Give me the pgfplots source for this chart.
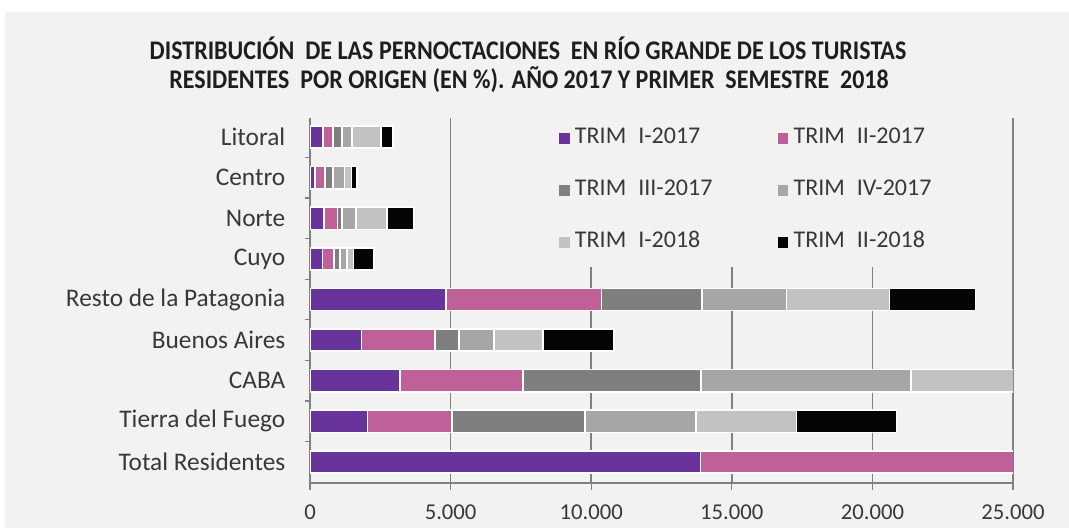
\documentclass[border=0pt]{standalone}
\usepackage{fontspec}
\setmainfont{Carlito}
\usepackage{pgfplots}
\pgfplotsset{compat=1.18}
\usepackage{pgfplotstable}
\definecolor{bg}{HTML}{F2F2F2}
\definecolor{c1}{HTML}{68339A}
\definecolor{c2}{HTML}{BF6198}
\definecolor{c3}{HTML}{7F7F7F}
\definecolor{c4}{HTML}{A6A6A6}
\definecolor{c5}{HTML}{C2C2C2}
\definecolor{c6}{HTML}{050505}
\definecolor{gridc}{HTML}{808080}
\definecolor{txt}{HTML}{383838}
\definecolor{ttl}{HTML}{1E1E1E}

\pgfplotstableread{
y T1 T2 T3 T4 T5 T6
0 13880 17120 16465 17170 15600 13490
1 2050 2990 4730 3950 3580 3560
2 3200 4380 6330 7470 4000 3000
3 1830 2620 850 1250 1730 2540
4 4840 5520 3590 2990 3670 3060
5 445 410 215 240 240 730
6 500 480 160 500 1100 960
7 180 360 270 410 250 210
8 460 360 320 360 1030 430
}\data

\begin{document}
\begin{tikzpicture}
\fill[white] (0,0) rectangle (801.75pt,396pt);
\fill[bg] (3.75pt,0) rectangle (801.75pt,387pt);
\node[font=\bfseries\fontsize{18}{20}\selectfont, text=ttl] at (396pt,360pt)
  {\scalebox{1}[1.12]{DISTRIBUCIÓN\ \ DE LAS PERNOCTACIONES\ \ EN RÍO GRANDE\ DE LOS TURISTAS}};
\node[font=\bfseries\fontsize{18}{20}\selectfont, text=ttl] at (396.75pt,336pt)
  {\scalebox{1}[1.12]{RESIDENTES\ \ POR ORIGEN (EN \%). AÑO 2017 Y PRIMER\ \ SEMESTRE\ \ 2018}};
\begin{axis}[
  at={(232.5pt,33.75pt)}, anchor=south west,
  scale only axis, width=527.25pt, height=273.75pt,
  xbar stacked, bar width=0.55,
  xmin=0, xmax=25000, ymin=-0.52, ymax=8.47,
  axis lines*=left,
  axis line style={gridc, line width=1pt},
  xtick={0,5000,...,25000},
  scaled x ticks=false,
  /pgf/number format/1000 sep={.},
  /pgf/number format/assume math mode=true,
  xmajorgrids, grid style={gridc, line width=1.2pt},
  xtick align=outside, ytick align=outside,
  major tick length=5pt, minor tick length=4pt,
  x tick style={gridc, line width=1pt},
  major y tick style={draw=none},
  minor y tick style={gridc, line width=1pt},
  ytick={0,...,8},
  minor ytick={0.5,1.5,...,7.5},
  yticklabels={Total Residentes, Tierra del Fuego, CABA\ , Buenos Aires, Resto de la Patagonia\ , Cuyo, Norte\ , Centro, Litoral},
  yticklabel style={font=\fontsize{19}{21}\selectfont, text=txt, anchor=east, xshift=-10pt},
  xticklabel style={font=\fontsize{17}{20}\selectfont, text=txt, yshift=-8pt},
  every axis plot/.append style={draw=white, line width=1.2pt},
  legend columns=2,
  legend cell align=left,
  legend image code/.code={\path[#1, draw=none] (0pt,-4pt) rectangle (8pt,4pt);},
  legend style={at={(0.35,1.01)}, anchor=north west, fill=bg, draw=none,
    inner xsep=2pt, inner ysep=8pt,
    font=\fontsize{18}{20}\selectfont, text=txt,
    nodes={text width=148pt, text height=12pt, text depth=4pt, inner xsep=4pt, inner ysep=2pt},
    row sep=19pt, column sep=0pt},
]
\addplot[fill=c1] table[x=T1, y=y] {\data};
\addplot[fill=c2] table[x=T2, y=y] {\data};
\addplot[fill=c3] table[x=T3, y=y] {\data};
\addplot[fill=c4] table[x=T4, y=y] {\data};
\addplot[fill=c5] table[x=T5, y=y] {\data};
\addplot[fill=c6] table[x=T6, y=y] {\data};
\legend{TRIM\hspace{0.5em}I-2017, TRIM\hspace{0.5em}II-2017, TRIM\hspace{0.5em}III-2017, TRIM\hspace{0.5em}IV-2017, TRIM\hspace{0.5em}I-2018, TRIM\hspace{0.5em}II-2018}
\end{axis}
\end{tikzpicture}
\end{document}
